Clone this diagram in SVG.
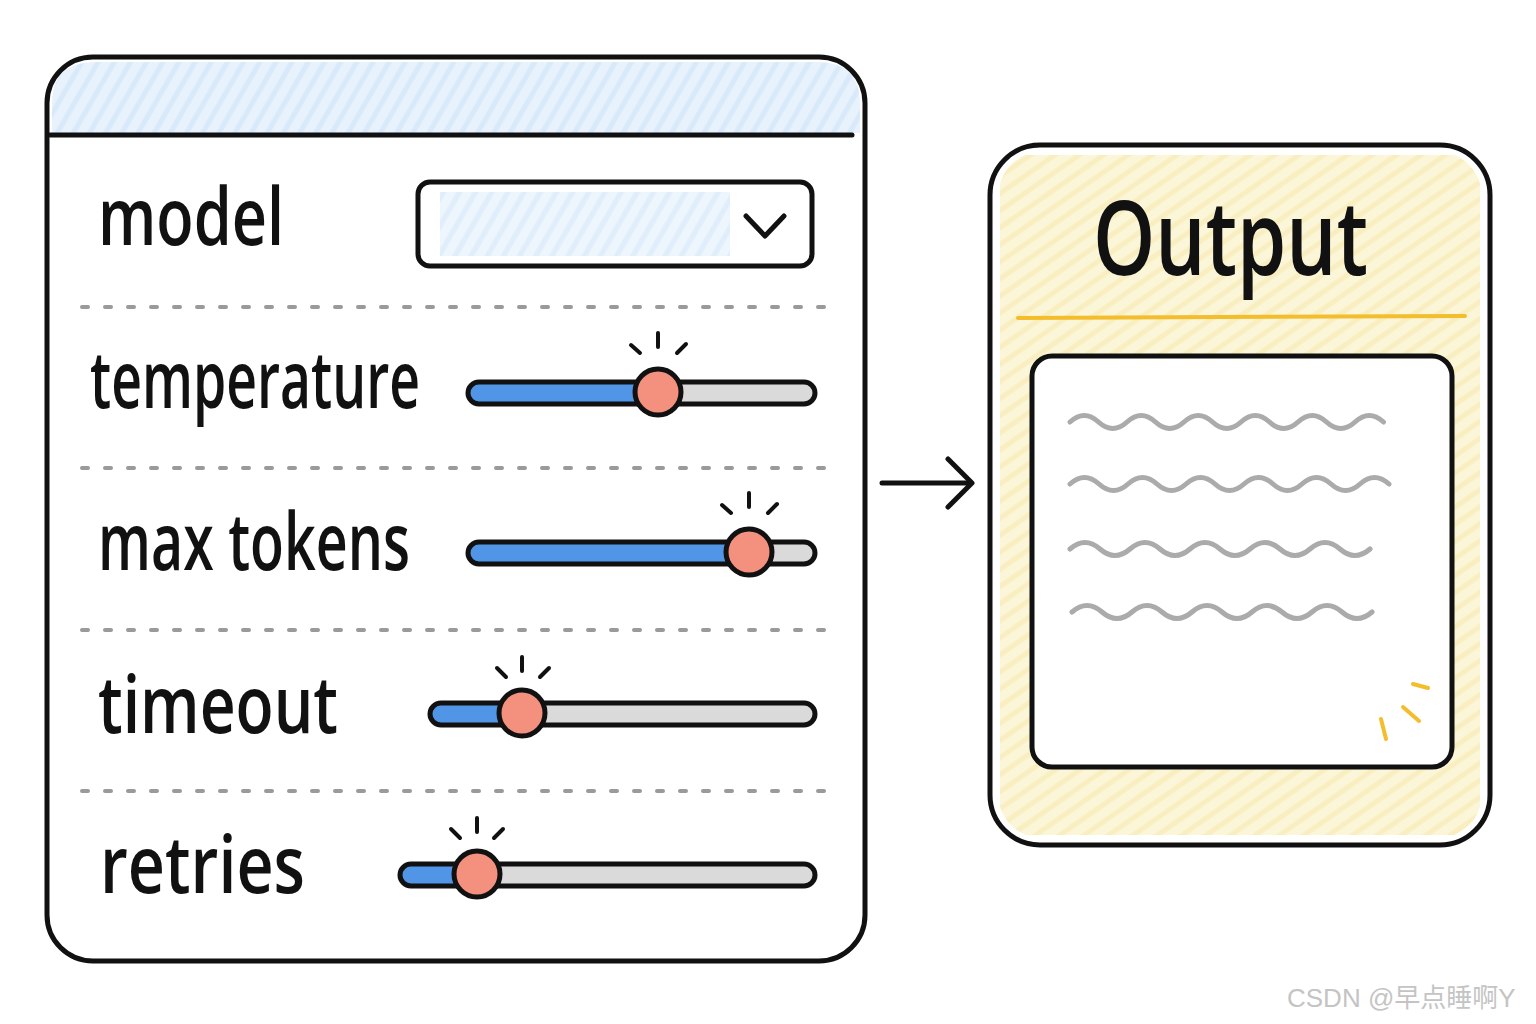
<svg xmlns="http://www.w3.org/2000/svg" width="1536" height="1024" viewBox="0 0 1536 1024">
<defs>
<style>
.ink{stroke:#111;fill:none;stroke-width:5;stroke-linecap:round;stroke-linejoin:round}
.lbl{font-family:"Open Sans","Noto Sans",sans-serif;font-weight:600;font-size:80px;fill:#111}
.dash{stroke:#9a9a9a;stroke-width:4;stroke-dasharray:6 17;stroke-linecap:round;fill:none}
.wave{stroke:#ababab;stroke-width:5;fill:none;stroke-linecap:round}
.ray{stroke:#111;stroke-width:4;stroke-linecap:round}
.spark{stroke:#f3bd2c;stroke-width:4;stroke-linecap:round}
.thumb{fill:#f3907e;stroke:#111;stroke-width:5}
.trk{fill:#dadada}
.blue{fill:#5196e6}
</style>
<pattern id="hb" width="14" height="14" patternUnits="userSpaceOnUse" patternTransform="rotate(-60)">
<rect width="14" height="14" fill="#e8f2fc"/>
<line x1="0" y1="4" x2="14" y2="4" stroke="#d8e9fa" stroke-width="5"/>
</pattern>
<pattern id="hy" width="14" height="14" patternUnits="userSpaceOnUse" patternTransform="rotate(-35)">
<rect width="14" height="14" fill="#fcf6d8"/>
<line x1="0" y1="4" x2="14" y2="4" stroke="#f9eec0" stroke-width="5"/>
</pattern>
<clipPath id="outClip"><rect x="998" y="152" width="484" height="686" rx="44"/></clipPath>
</defs>
<rect width="1536" height="1024" fill="#ffffff"/>

<g id="settings-panel">
<path d="M52,133 V104 Q52,62 96,62 H818 Q860,62 860,104 V133 Z" fill="url(#hb)"/>
<rect class="ink" x="47" y="57" width="818" height="904" rx="46" stroke-width="6"/>
<line class="ink" x1="50" y1="135" x2="852" y2="135" stroke-width="4.5"/>
</g>

<g id="model-row">
<text class="lbl" x="98" y="245" textLength="186" lengthAdjust="spacingAndGlyphs">model</text>
<rect x="440" y="192" width="290" height="64" fill="url(#hb)" opacity="0.8"/>
<rect class="ink" x="418" y="182" width="394" height="84" rx="12" stroke-width="4.5"/>
<path class="ink" d="M746,216 L765,236 L784,216" stroke-width="5"/>
</g>

<g id="separators">
<line class="dash" x1="82" y1="307" x2="830" y2="307"/>
<line class="dash" x1="82" y1="468" x2="830" y2="468"/>
<line class="dash" x1="82" y1="630" x2="830" y2="630"/>
<line class="dash" x1="82" y1="791" x2="830" y2="791"/>
</g>

<g id="temperature-row">
<text class="lbl" x="90" y="408" textLength="330" lengthAdjust="spacingAndGlyphs">temperature</text>
<rect class="trk" x="468" y="382" width="347" height="22" rx="11"/>
<rect class="blue" x="468" y="382" width="200" height="22" rx="11"/>
<rect class="ink" x="468" y="382" width="347" height="22" rx="11"/>
<circle class="thumb" cx="658" cy="392" r="23"/>
<line class="ray" x1="658" y1="333" x2="658" y2="347"/>
<line class="ray" x1="631" y1="345" x2="640" y2="353"/>
<line class="ray" x1="686" y1="344" x2="677" y2="353"/>
</g>

<g id="max-tokens-row">
<text class="lbl" x="98" y="570" textLength="312" lengthAdjust="spacingAndGlyphs">max tokens</text>
<rect class="trk" x="468" y="542" width="347" height="22" rx="11"/>
<rect class="blue" x="468" y="542" width="290" height="22" rx="11"/>
<rect class="ink" x="468" y="542" width="347" height="22" rx="11"/>
<circle class="thumb" cx="749" cy="552" r="23"/>
<line class="ray" x1="749" y1="493" x2="749" y2="507"/>
<line class="ray" x1="722" y1="505" x2="731" y2="513"/>
<line class="ray" x1="777" y1="504" x2="768" y2="513"/>
</g>

<g id="timeout-row">
<text class="lbl" x="98" y="733" textLength="240" lengthAdjust="spacingAndGlyphs">timeout</text>
<rect class="trk" x="430" y="703" width="385" height="22" rx="11"/>
<rect class="blue" x="430" y="703" width="100" height="22" rx="11"/>
<rect class="ink" x="430" y="703" width="385" height="22" rx="11"/>
<circle class="thumb" cx="522" cy="713" r="23"/>
<line class="ray" x1="522" y1="657" x2="522" y2="671"/>
<line class="ray" x1="497" y1="668" x2="506" y2="677"/>
<line class="ray" x1="549" y1="668" x2="540" y2="677"/>
</g>

<g id="retries-row">
<text class="lbl" x="100" y="893" textLength="205" lengthAdjust="spacingAndGlyphs">retries</text>
<rect class="trk" x="400" y="864" width="415" height="22" rx="11"/>
<rect class="blue" x="400" y="864" width="85" height="22" rx="11"/>
<rect class="ink" x="400" y="864" width="415" height="22" rx="11"/>
<circle class="thumb" cx="477" cy="874" r="23"/>
<line class="ray" x1="477" y1="818" x2="477" y2="832"/>
<line class="ray" x1="451" y1="829" x2="460" y2="838"/>
<line class="ray" x1="503" y1="829" x2="494" y2="838"/>
</g>

<g id="connectors">
<line class="ink" x1="882" y1="483" x2="970" y2="483"/>
<path class="ink" d="M948,459 L972,483 L948,507"/>
</g>

<g id="output-panel">
<g clip-path="url(#outClip)">
<rect x="1000" y="155" width="480" height="680" fill="url(#hy)"/>
</g>
<rect class="ink" x="990" y="145" width="500" height="700" rx="50" stroke-width="6"/>
<text x="1093" y="275" font-family="Open Sans, Noto Sans, sans-serif" font-weight="600" font-size="104" fill="#111" textLength="275" lengthAdjust="spacingAndGlyphs">Output</text>
<line x1="1018" y1="318" x2="1465" y2="316" stroke="#f3bd2c" stroke-width="4" stroke-linecap="round"/>
<rect class="ink" x="1032" y="356" width="420" height="411" rx="20" style="fill:#ffffff"/>
<path class="wave" d="M1070,422 q14.25,-13 28.5,0 t28.5,0 t28.5,0 t28.5,0 t28.5,0 t28.5,0 t28.5,0 t28.5,0 t28.5,0 t28.5,0 t28.5,0"/>
<path class="wave" d="M1070,484 q14.5,-13 29,0 t29,0 t29,0 t29,0 t29,0 t29,0 t29,0 t29,0 t29,0 t29,0 t29,0"/>
<path class="wave" d="M1070,549 q15,-13 30,0 t30,0 t30,0 t30,0 t30,0 t30,0 t30,0 t30,0 t30,0 t30,0"/>
<path class="wave" d="M1072,612 q15,-13 30,0 t30,0 t30,0 t30,0 t30,0 t30,0 t30,0 t30,0 t30,0 t30,0"/>
<line class="spark" x1="1381" y1="719" x2="1386" y2="739"/>
<line class="spark" x1="1403" y1="707" x2="1419" y2="721"/>
<line class="spark" x1="1413" y1="684" x2="1428" y2="688"/>
</g>

<text x="1287" y="1007" font-family="Liberation Sans, Noto Sans CJK SC, sans-serif" font-size="26" fill="#c4c4c4">CSDN @早点睡啊Y</text>
</svg>
